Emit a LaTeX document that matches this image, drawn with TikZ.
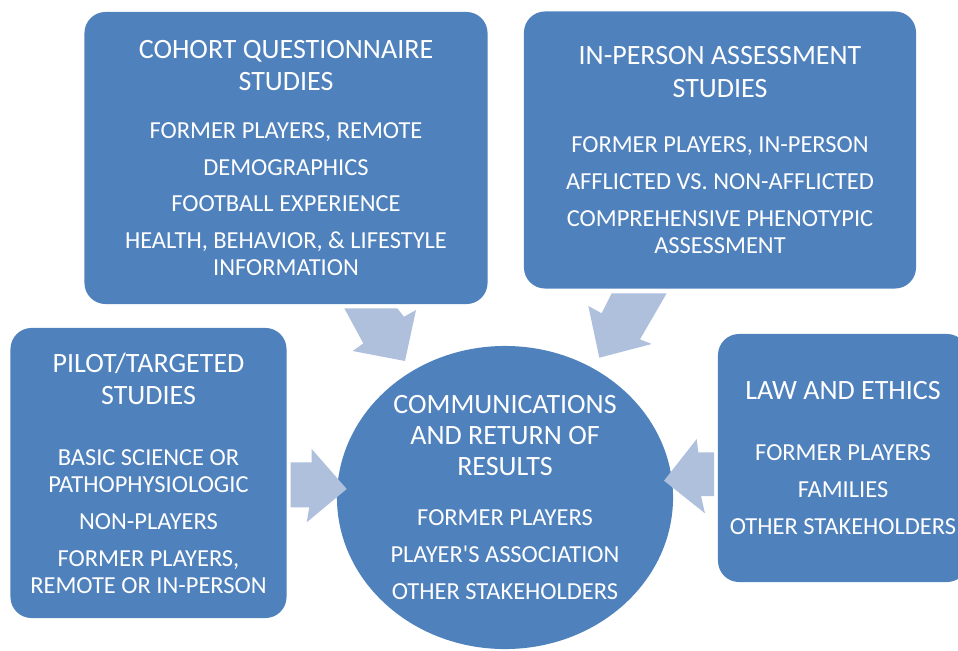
\documentclass[tikz,border=0pt]{standalone}
\usepackage{fontspec}
\setmainfont{Carlito}
\usetikzlibrary{shapes.geometric}
\definecolor{panelblue}{RGB}{79,129,189}
\definecolor{flowblue}{RGB}{175,192,221}
\newcommand{\titlefont}{\fontsize{19.9pt}{22.8pt}\selectfont}
\newcommand{\itemfont}{\fontsize{17.4pt}{19.2pt}\selectfont}
\tikzset{
    panel/.style={fill=panelblue, draw=none, rounded corners=15pt, text=white,
        align=center, inner sep=0pt, font=\itemfont},
    hub/.style={panel, ellipse, rounded corners=0pt},
    flow/.style={fill=flowblue, draw=none}
}

\begin{document}
\begin{tikzpicture}[x=0.025cm, y=-0.025cm]
    \clip (0,0) rectangle (958,650);
    \node[panel, minimum width=10.075cm, minimum height=7.3cm] (cohort) at (286,158)
        {{\titlefont COHORT QUESTIONNAIRE}\\[3.6pt]{\titlefont STUDIES}\\[14.9pt]
         FORMER PLAYERS, REMOTE\\[7.1pt]DEMOGRAPHICS\\[7.1pt]FOOTBALL EXPERIENCE\\[7.1pt]
         HEALTH, BEHAVIOR, \& LIFESTYLE\\INFORMATION};
    \node[panel, minimum width=9.8cm, minimum height=6.925cm] (inperson) at (720,150)
        {{\titlefont IN-PERSON ASSESSMENT}\\[3.6pt]{\titlefont STUDIES}\\[19.9pt]
         FORMER PLAYERS, IN-PERSON\\[7.1pt]AFFLICTED VS. NON-AFFLICTED\\[7.1pt]
         COMPREHENSIVE PHENOTYPIC\\ASSESSMENT};
    \node[panel, minimum width=6.9cm, minimum height=7.25cm] (pilot) at (148.5,473)
        {{\titlefont PILOT/TARGETED}\\[3.6pt]{\titlefont STUDIES}\\[24.2pt]
         BASIC SCIENCE OR\\PATHOPHYSIOLOGIC\\[7.1pt]NON-PLAYERS\\[7.1pt]
         FORMER PLAYERS,\\REMOTE OR IN-PERSON};
    \node[panel, minimum width=6.25cm, minimum height=6.2cm] (law) at (843,458)
        {{\titlefont LAW AND ETHICS}\\[24.2pt]
         FORMER PLAYERS\\[7.1pt]FAMILIES\\[7.1pt]OTHER STAKEHOLDERS};
    \node[hub, minimum width=8.4cm, minimum height=7.575cm] (results) at (505,497.5)
        {{\titlefont COMMUNICATIONS}\\[2.5pt]{\titlefont AND RETURN OF}\\[2.5pt]{\titlefont RESULTS}\\[16.4pt]
         FORMER PLAYERS\\[7.1pt]PLAYER\textquotesingle S ASSOCIATION\\[7.1pt]OTHER STAKEHOLDERS};
    \fill[flow] (344.3,308.3) -- (397.3,308.3) -- (404,316.7) -- (416,310) -- (405,361)
        -- (352.7,351) -- (363.3,343.3) -- cycle;
    \fill[flow] (666.7,293.3) -- (611.7,293.3) -- (601.7,313.3) -- (588.3,306) -- (599.3,357.7)
        -- (651.7,344) -- (640,339.3) -- cycle;
    \fill[flow] (290.7,462.3) -- (311.7,462.3) -- (311.7,449) -- (346.7,489) -- (306.7,522.3)
        -- (309.3,507.3) -- (290.7,507.3) -- cycle;
    \fill[flow] (664,480.7) -- (696.7,439) -- (698.3,452.3) -- (714,452.3) -- (714,496)
        -- (701,496) -- (705,513.3) -- cycle;
\end{tikzpicture}
\end{document}
